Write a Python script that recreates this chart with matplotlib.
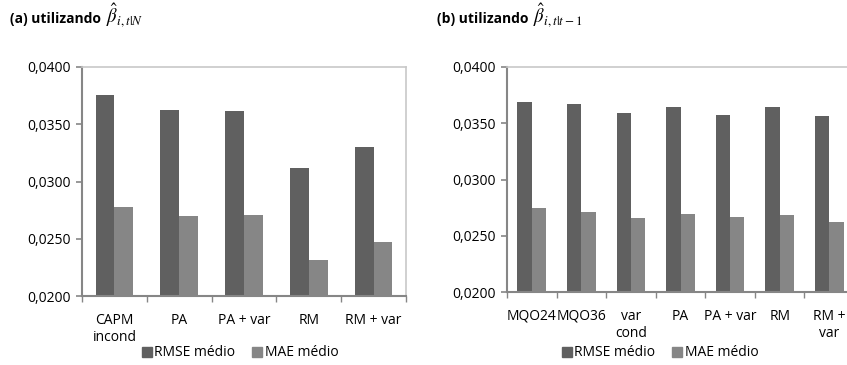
import matplotlib
matplotlib.use("Agg")
import matplotlib.pyplot as plt
from matplotlib.ticker import FuncFormatter, FixedLocator
from matplotlib.patches import Patch

plt.rcParams.update({
    "font.family": ["Open Sans", "DejaVu Sans"],
    "font.size": 10,
    "mathtext.fontset": "stix",
})

# ── data ───────────────────────────────────────────────────────────────────
cats_a = ["CAPM\nincond", "PA", "PA + var", "RM", "RM + var"]
rmse_a = [0.03753, 0.03622, 0.03613, 0.03116, 0.03300]
mae_a  = [0.02776, 0.02698, 0.02706, 0.02314, 0.02471]

cats_b = ["MQO24", "MQO36", "var\ncond", "PA", "PA + var", "RM", "RM +\nvar"]
rmse_b = [0.03686, 0.03668, 0.03588, 0.03641, 0.03570, 0.03641, 0.03561]
mae_b  = [0.02744, 0.02708, 0.02655, 0.02695, 0.02664, 0.02681, 0.02619]

series_names = ["RMSE médio", "MAE médio"]
DARK, LIGHT = "#606060", "#868686"
AXIS_C, FRAME_C = "#868686", "#c8c8c8"

W, H = 847, 365
fig = plt.figure(figsize=(W / 100, H / 100), dpi=100)


def px_axes(x0, y0, x1, y1):
    # pixel box (top-left origin) -> figure axes
    return fig.add_axes([x0 / W, 1 - y1 / H, (x1 - x0) / W, (y1 - y0) / H])


def panel(ax, cats, rmse, mae, bw):
    n = len(cats)
    xs = list(range(n))
    ax.bar([x - bw / 2 for x in xs], [v - 0.02 for v in rmse], bottom=0.02,
           width=bw, color=DARK)
    ax.bar([x + bw / 2 for x in xs], [v - 0.02 for v in mae], bottom=0.02,
           width=bw, color=LIGHT)
    ax.set_xlim(-0.5, n - 0.5)
    ax.set_ylim(0.02, 0.04)
    ax.set_yticks([0.02, 0.025, 0.03, 0.035, 0.04])
    ax.yaxis.set_major_formatter(FuncFormatter(lambda v, p: f"{v:.4f}".replace(".", ",")))
    # ticks at category boundaries, labels at centres
    ax.xaxis.set_major_locator(FixedLocator([i - 0.5 for i in range(n + 1)]))
    ax.xaxis.set_major_formatter(FuncFormatter(lambda v, p: ""))
    ax.set_xticks(xs, minor=True)
    ax.set_xticklabels(cats, minor=True)
    ax.tick_params(axis="x", which="minor", length=0, pad=12)
    ax.tick_params(axis="x", which="major", length=4, width=1, color=AXIS_C)
    ax.tick_params(axis="y", length=4, width=1.2, color=AXIS_C, pad=4)
    for s in ("left", "bottom"):
        ax.spines[s].set_color(AXIS_C)
        ax.spines[s].set_linewidth(1.5)
    for s in ("top", "right"):
        ax.spines[s].set_color(FRAME_C)
        ax.spines[s].set_linewidth(1.2)


ax_a = px_axes(82, 67, 406, 296)
panel(ax_a, cats_a, rmse_a, mae_a, 0.29)
ax_b = px_axes(507, 67, 854, 292)
panel(ax_b, cats_b, rmse_b, mae_b, 0.29)

handles = [Patch(color=DARK), Patch(color=LIGHT)]
for cx in (240 / W, 660 / W):
    fig.legend(handles, series_names, loc="center", bbox_to_anchor=(cx, 1 - 353 / H),
               ncol=2, frameon=False, handlelength=0.7, handleheight=0.7,
               handletextpad=0.2, columnspacing=1.2, borderpad=0)

# titles: bold text followed by a larger math part
renderer = fig.canvas.get_renderer()
for x0, label, sub in ((10, "(a) utilizando ", r"$\hat{\beta}_{i,t|N}$"),
                       (437, "(b) utilizando ", r"$\hat{\beta}_{i,t|t-1}$")):
    t = fig.text(x0 / W, 1 - 23 / H, label, fontweight="bold", fontsize=10,
                 va="baseline", ha="left")
    bb = t.get_window_extent(renderer)
    fig.text((bb.x1 + 1) / W, 1 - 23 / H, sub, fontsize=13.5,
             va="baseline", ha="left")

fig.savefig("out.png", dpi=100)
